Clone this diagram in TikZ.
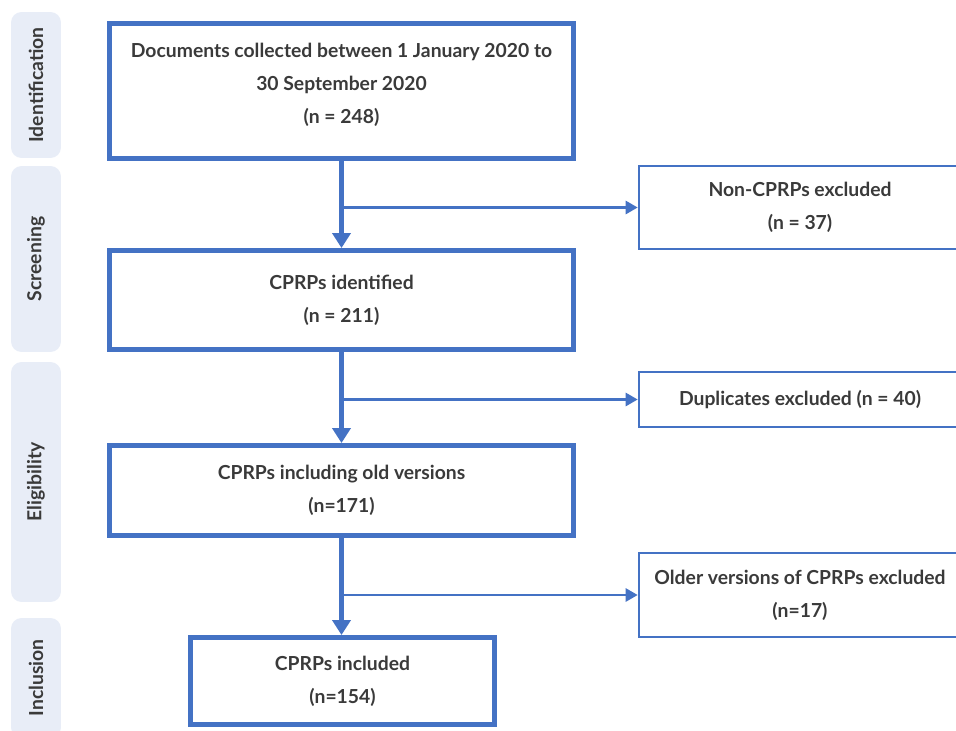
\documentclass[tikz,border=0pt]{standalone}
\usepackage{fontspec}
\setmainfont{Lato}
\usetikzlibrary{positioning,arrows.meta}
\definecolor{boxblue}{HTML}{4472C4}
\definecolor{tabfill}{HTML}{E8EDF7}
\definecolor{txtgray}{HTML}{3A3A3A}
\tikzset{
mainbox/.style={draw=boxblue, line width=2.8pt, minimum width=9.28cm, align=center, inner sep=0pt}, % left column boxes
sidebox/.style={draw=boxblue, line width=1.5pt, minimum width=6.44cm, align=center, inner sep=0pt}, % exclusion boxes
phasetab/.style={fill=tabfill, rounded corners=6pt, minimum width=1cm, inner sep=0pt}, % phase tabs on the left
phasetext/.style={rotate=90, font=\bfseries\fontsize{11}{13}\selectfont, text=txtgray},
flow/.style={draw=boxblue, line width=2.8pt, -{Triangle[width=0.36cm,length=0.3cm]}},
branch/.style={draw=boxblue, line width=1.5pt, -{Triangle[width=0.26cm,length=0.24cm]}},
every node/.style={font=\bfseries\fontsize{11}{18.7}\selectfont, text=txtgray},
}
\begin{document}
\begin{tikzpicture}[x=0.02cm, y=-0.02cm]
\useasboundingbox (0,0) rectangle (956,730);
% phase tabs
\node[phasetab, minimum height=2.92cm] (idtab) at (36,85) {};
\node[phasetab, minimum height=3.72cm] (scrtab) at (36,259) {};
\node[phasetab, minimum height=4.8cm] (elitab) at (36,482) {};
\node[phasetab, minimum height=2.4cm] (inctab) at (36,678) {};
\node[phasetext] at (idtab) {Identification};
\node[phasetext] at (scrtab) {Screening};
\node[phasetext] at (elitab) {Eligibility};
\node[phasetext] at (inctab) {Inclusion};
% main column
\node[mainbox, minimum height=2.7cm] (docs) at (341.5,91) {Documents collected between 1 January 2020 to\\30 September 2020\\(n = 248)\rule[-0.32cm]{0pt}{0pt}};
\node[mainbox, minimum height=1.98cm] (ident) at (341.5,300) {CPRPs identified\\(n = 211)};
\node[mainbox, minimum height=1.8cm] (oldver) at (341.5,490.5) {CPRPs including old versions\\(n=171)};
\node[mainbox, minimum width=6.08cm, minimum height=1.74cm] (incl) at (342.5,681) {CPRPs included\\(n=154)};
% exclusions
\node[sidebox, minimum height=1.66cm] (noncprp) at (800,207.5) {Non-CPRPs excluded\\(n = 37)};
\node[sidebox, minimum height=1.1cm] (dupl) at (800,399.5) {Duplicates excluded (n = 40)};
\node[sidebox, minimum height=1.68cm] (older) at (800,595) {Older versions of CPRPs excluded\\(n=17)};
% connectors
\draw[flow] (docs.south) -- (ident.north);
\draw[flow] (ident.south) -- (oldver.north);
\draw[flow] (oldver.south) -- (oldver.south |- incl.north);
\draw[branch] (docs.south |- noncprp.west) -- (noncprp.west);
\draw[branch] (ident.south |- dupl.west) -- (dupl.west);
\draw[branch] (oldver.south |- older.west) -- (older.west);
\end{tikzpicture}
\end{document}
